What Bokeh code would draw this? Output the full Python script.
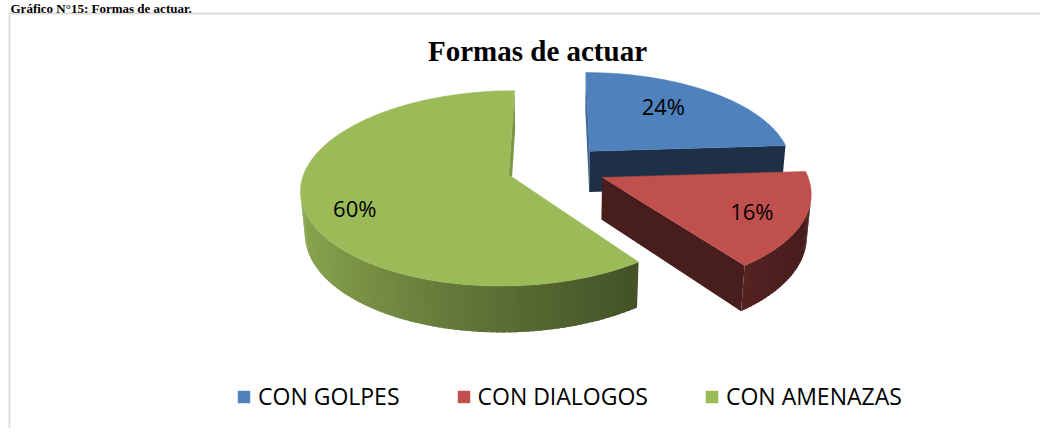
import numpy as np
from bokeh.plotting import figure
from bokeh.models import Range1d, ColumnDataSource, Legend, LegendItem, BoxAnnotation
from bokeh.core.properties import value
from bokeh.embed import file_html
from bokeh.resources import INLINE

# ---------------- data ----------------
categories = ["CON GOLPES", "CON DIALOGOS", "CON AMENAZAS"]
values = [24, 16, 60]
colors = ["#4F81BD", "#C0504D", "#9BBB59"]
chart_title = "Formas de actuar"
caption = "Gráfico N°15: Formas de actuar."

# ---------------- 3D pie styling / geometry ----------------
CX, CY = 556, 167          # projected pie centre (px)
S = 203                    # px per radius at centre depth
DP = 6.4                   # camera distance (radii)
ALPHA = np.deg2rad(27.5)   # elevation
T = 0.235                  # thickness (radii)
EXPLODE = 0.245            # explosion (radii)
START = 90.0               # first slice starts at 12 o'clock, clockwise
label_r = [0.68, 0.76, 0.78]
label_dang = [6.0, -1.0, 7.5]
SA, CA = np.sin(ALPHA), np.cos(ALPHA)
CAM = np.array([0.0, DP * SA, -DP * CA])   # (u, h, v)


def proj(u, v, h):
    depth = DP + v * CA - h * SA
    sx = CX + S * DP * u / depth
    sy = CY - S * DP * (h * CA + v * SA) / depth
    return sx, sy


def shade(hexcol, f):
    h = hexcol.lstrip("#")
    r, g, b = (int(h[i:i + 2], 16) for i in (0, 2, 4))
    return "#%02x%02x%02x" % tuple(max(0, min(255, int(round(c * f)))) for c in (r, g, b))


def visible(normal, point):
    return float(np.dot(normal, CAM - point)) > 0


total = float(sum(values))
slices = []
a_end = START
for i, val in enumerate(values):
    sweep = 360.0 * val / total
    a1, a2 = a_end - sweep, a_end
    a_end = a1
    mid = np.deg2rad((a1 + a2) / 2)
    ou, ov = EXPLODE * np.cos(mid), EXPLODE * np.sin(mid)
    faces = []
    # curved outer side (small overlapping strips for a smooth gradient)
    n = max(2, int(np.ceil((a2 - a1) / 1.5)))
    th = np.deg2rad(np.linspace(a1, a2, n + 1))
    step = th[1] - th[0]
    for j in range(n):
        t0, t1 = th[j], th[j + 1]
        tm = (t0 + t1) / 2
        nrm = np.array([np.cos(tm), 0.0, np.sin(tm)])
        pt = np.array([ou + np.cos(tm), -T / 2, ov + np.sin(tm)])
        if not visible(nrm, pt):
            continue
        t1e = min(t1 + 0.6 * step, th[-1])
        pts = [(ou + np.cos(t0), ov + np.sin(t0), 0.0), (ou + np.cos(t1e), ov + np.sin(t1e), 0.0),
               (ou + np.cos(t1e), ov + np.sin(t1e), -T), (ou + np.cos(t0), ov + np.sin(t0), -T)]
        xs, ys = zip(*[proj(*q) for q in pts])
        tt = (1 - np.cos(tm)) / 2
        f = 0.36 + 0.54 * tt ** 1.25
        depth = DP + (ov + np.sin(tm)) * CA + T / 2 * SA
        faces.append((depth, list(xs), list(ys), shade(colors[i], f)))
    # radial cut faces
    for ang, nang in ((a1, a1 - 90), (a2, a2 + 90)):
        ar, nr = np.deg2rad(ang), np.deg2rad(nang)
        nrm = np.array([np.cos(nr), 0.0, np.sin(nr)])
        pt = np.array([ou + 0.5 * np.cos(ar), -T / 2, ov + 0.5 * np.sin(ar)])
        if not visible(nrm, pt):
            continue
        pts = [(ou, ov, 0.0), (ou + np.cos(ar), ov + np.sin(ar), 0.0),
               (ou + np.cos(ar), ov + np.sin(ar), -T), (ou, ov, -T)]
        xs, ys = zip(*[proj(*q) for q in pts])
        f = 0.37 if np.sin(nr) < -1e-6 else 0.8
        depth = DP + (ov + 0.5 * np.sin(ar)) * CA + T / 2 * SA
        faces.append((depth, list(xs), list(ys), shade(colors[i], f)))
    faces.sort(key=lambda q: -q[0])
    # top face
    tt_ = np.deg2rad(np.linspace(a1, a2, max(3, int(np.ceil(a2 - a1)) + 1)))
    top_pts = [(ou, ov, 0.0)] + [(ou + np.cos(t), ov + np.sin(t), 0.0) for t in tt_]
    txs, tys = zip(*[proj(*q) for q in top_pts])
    la = np.deg2rad(np.rad2deg(mid) + label_dang[i])
    lx, ly = proj(ou + label_r[i] * np.cos(la), ov + label_r[i] * np.sin(la), 0.0)
    slices.append(dict(order=ov, faces=faces, top=(list(txs), list(tys)), label=(lx, ly),
                       pct="%d%%" % round(100 * val / total)))

p = figure(width=1040, height=428, x_range=Range1d(0, 1040), y_range=Range1d(428, 0),
           output_backend="svg", toolbar_location=None, min_border=0,
           x_axis_type=None, y_axis_type=None,
           background_fill_color="white", border_fill_color="white")
p.outline_line_color = None
p.xgrid.visible = False
p.ygrid.visible = False

# chart area border
p.add_layout(BoxAnnotation(left=9, right=3000, top=13, bottom=3000, fill_alpha=0,
                           line_color="#8f8f8f", line_width=2))

top_renderers = [None] * len(values)
for idx in sorted(range(len(slices)), key=lambda k: -slices[k]["order"]):
    s = slices[idx]
    if s["faces"]:
        src = ColumnDataSource(dict(xs=[f[1] for f in s["faces"]], ys=[f[2] for f in s["faces"]],
                                    c=[f[3] for f in s["faces"]]))
        p.patches("xs", "ys", source=src, fill_color="c", line_color=None)
    top_renderers[idx] = p.patches([s["top"][0]], [s["top"][1]], fill_color=colors[idx],
                                   line_color=colors[idx], line_width=0.5)

# percentage labels
p.text(x=[s["label"][0] for s in slices], y=[s["label"][1] for s in slices],
       text=[s["pct"] for s in slices], text_font=value("Open Sans"), text_font_size="22px",
       text_align="center", text_baseline="middle", text_color="black")

# titles
p.text(x=[537], y=[50], text=[chart_title], text_font=value("Liberation Serif"),
       text_font_style="bold", text_font_size="29px", text_align="center",
       text_baseline="middle", text_color="black")
p.text(x=[10], y=[7.5], text=[caption], text_font=value("Liberation Serif"),
       text_font_style="bold", text_font_size="13px", text_align="left",
       text_baseline="middle", text_color="black")

legend = Legend(items=[LegendItem(label=categories[k], renderers=[top_renderers[k]]) for k in range(len(values))],
                orientation="horizontal", location=(236, 16), glyph_width=15, glyph_height=15,
                label_standoff=7, spacing=56, padding=0, margin=0, border_line_color=None,
                background_fill_alpha=0, label_text_font="Open Sans", label_text_font_size="23px",
                label_text_color="black")
p.add_layout(legend)

open("out.html", "w").write(file_html(p, INLINE))
